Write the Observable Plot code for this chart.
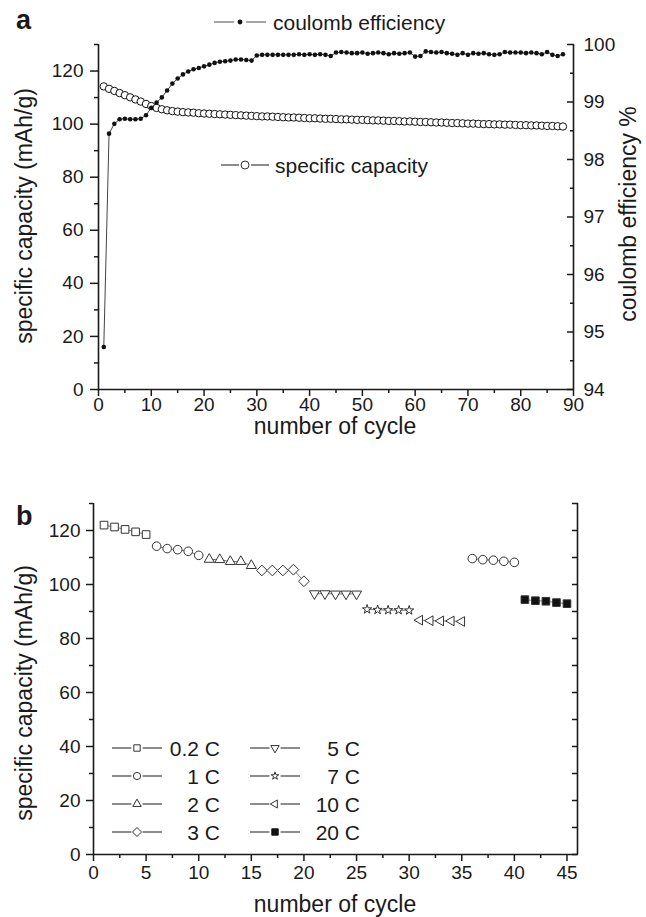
<!DOCTYPE html>
<html><head><meta charset="utf-8">
<script src="https://cdn.jsdelivr.net/npm/d3@7"></script>
<script src="https://cdn.jsdelivr.net/npm/@observablehq/plot@0.6"></script>
<style>
body{margin:0;background:#fff;}
#wrap{position:relative;width:646px;height:917px;overflow:hidden;background:#fff;}
#wrap svg{position:absolute;left:0;}
</style></head><body><div id="wrap"></div>
<script>
// ---------- Panel a data ----------
const cyclesA = [1,2,3,4,5,6,7,8,9,10,11,12,13,14,15,16,17,18,19,20,21,22,23,24,25,26,27,28,29,30,31,32,33,34,35,36,37,38,39,40,41,42,43,44,45,46,47,48,49,50,51,52,53,54,55,56,57,58,59,60,61,62,63,64,65,66,67,68,69,70,71,72,73,74,75,76,77,78,79,80,81,82,83,84,85,86,87,88];
const capacityA = [114.2,113.3,112.5,111.7,110.9,110.1,109.3,108.5,107.6,106.8,106.1,105.6,105.2,104.9,104.7,104.5,104.4,104.3,104.1,104.0,103.9,103.8,103.7,103.6,103.5,103.4,103.3,103.2,103.1,103.0,102.9,102.9,102.8,102.7,102.6,102.5,102.5,102.4,102.3,102.2,102.2,102.1,102.0,102.0,101.9,101.8,101.8,101.7,101.6,101.6,101.5,101.4,101.4,101.3,101.2,101.2,101.1,101.0,101.0,100.9,100.8,100.8,100.7,100.6,100.6,100.5,100.4,100.4,100.3,100.2,100.2,100.1,100.0,100.0,99.9,99.9,99.8,99.8,99.7,99.6,99.6,99.5,99.5,99.4,99.3,99.3,99.2,99.1];
const efficiencyA = [94.74,98.45,98.62,98.70,98.71,98.70,98.70,98.71,98.77,98.90,98.99,99.08,99.20,99.32,99.41,99.48,99.53,99.57,99.59,99.62,99.65,99.68,99.70,99.71,99.72,99.74,99.74,99.73,99.72,99.81,99.82,99.82,99.82,99.82,99.82,99.82,99.82,99.83,99.82,99.83,99.82,99.83,99.82,99.80,99.86,99.87,99.86,99.85,99.85,99.86,99.84,99.85,99.86,99.85,99.83,99.85,99.84,99.85,99.86,99.79,99.80,99.88,99.87,99.86,99.87,99.85,99.84,99.82,99.85,99.82,99.85,99.84,99.85,99.83,99.82,99.83,99.87,99.86,99.86,99.86,99.85,99.86,99.85,99.83,99.87,99.82,99.80,99.83];
const capTicks = [0,20,40,60,80,100,120];
const capMinor = [10,30,50,70,90,110,130];
const ceTicks = [94,95,96,97,98,99,100];
const ceMinor = [94.5,95.5,96.5,97.5,98.5,99.5];
const cycleTicksA = [0,10,20,30,40,50,60,70,80,90];
const cycleMinorA = [5,15,25,35,45,55,65,75,85];

// ---------- Panel b data ----------
const cyclesB = [1,2,3,4,5,6,7,8,9,10,11,12,13,14,15,16,17,18,19,20,21,22,23,24,25,26,27,28,29,30,31,32,33,34,35,36,37,38,39,40,41,42,43,44,45];
const capacityB = [122.0,121.3,120.4,119.5,118.5, 114.2,113.3,112.9,112.3,110.8, 109.3,109.2,108.5,108.5,107.0, 105.2,105.2,105.2,105.5,101.2, 96.6,96.6,96.5,96.5,96.5, 90.8,90.6,90.5,90.5,90.4, 86.8,86.6,86.5,86.5,86.3, 109.6,109.2,109.0,108.6,108.2, 94.4,94.0,93.8,93.3,92.9];
const blockRates = ["0.2 C","1 C","2 C","3 C","5 C","7 C","10 C","1 C","20 C"];
const legendRates = ["0.2 C","1 C","2 C","3 C","5 C","7 C","10 C","20 C"];
const cycleTicksB = [0,5,10,15,20,25,30,35,40,45];
const cycleMinorB = [2.5,7.5,12.5,17.5,22.5,27.5,32.5,37.5,42.5];
const capTicksB = [0,20,40,60,80,100,120];
const capMinorB = [10,30,50,70,90,110,130];
const capAllB = [0,10,20,30,40,50,60,70,80,90,100,110,120,130];

// ---------- symbols ----------
const sym = {
  square: {draw(c, s){const h = Math.sqrt(s)/2; c.moveTo(-h,-h); c.lineTo(h,-h); c.lineTo(h,h); c.lineTo(-h,h); c.closePath();}},
  circle: {draw(c, s){const r = Math.sqrt(s/Math.PI); c.moveTo(r,0); c.arc(0,0,r,0,2*Math.PI);}},
  triUp: {draw(c, s){const R = Math.sqrt(s/Math.PI)*1.35; c.moveTo(0,-R); c.lineTo(R*0.866,R*0.5); c.lineTo(-R*0.866,R*0.5); c.closePath();}},
  triDown: {draw(c, s){const R = Math.sqrt(s/Math.PI)*1.35; c.moveTo(0,R); c.lineTo(R*0.866,-R*0.5); c.lineTo(-R*0.866,-R*0.5); c.closePath();}},
  triLeft: {draw(c, s){const R = Math.sqrt(s/Math.PI)*1.3; c.moveTo(-R,0); c.lineTo(R*0.5,-R*0.866); c.lineTo(R*0.5,R*0.866); c.closePath();}},
  diamond: {draw(c, s){const D = Math.sqrt(s/Math.PI)*1.25; c.moveTo(0,-D); c.lineTo(D,0); c.lineTo(0,D); c.lineTo(-D,0); c.closePath();}},
  star: {draw(c, s){d3.symbolStar.draw(c, s*0.45);}}
};
const rateSymbol = {"0.2 C": sym.square, "1 C": sym.circle, "2 C": sym.triUp, "3 C": sym.diamond, "5 C": sym.triDown, "7 C": sym.star, "10 C": sym.triLeft, "20 C": sym.square};
const rateFill = r => r === "20 C" ? "#111" : "white";

const FONT = "'Liberation Sans', Arial, Helvetica, sans-serif";
const INK = "#1a1a1a";

// ---------- Panel a ----------
const dataA = cyclesA.map((c, i) => ({cycle: c, cap: capacityA[i], ce: efficiencyA[i]}));
const ceToLeft = v => (v - 94) * 130 / 6;   // right axis (94-100 %) mapped on left axis (0-130)
const leftToCe = v => Math.round(v * 6 / 130 + 94);

const plotA = Plot.plot({
  width: 646, height: 440,
  marginLeft: 98, marginRight: 73, marginTop: 44, marginBottom: 51,
  style: {fontFamily: FONT, fontSize: "19px", color: INK, background: "transparent", overflow: "visible"},
  x: {domain: [0, 90]},
  y: {domain: [0, 130]},
  marks: [
    Plot.axisX({ticks: cycleTicksA, tickSize: 7, tickPadding: 1, label: null, strokeWidth: 1.5}),
    Plot.axisX({ticks: cycleMinorA, tickSize: 4, tickFormat: () => "", label: null, strokeWidth: 1.5}),
    Plot.axisY({ticks: capTicks, tickSize: 8, tickPadding: 7, label: null, strokeWidth: 1.5}),
    Plot.axisY({ticks: capMinor, tickSize: 4, tickFormat: () => "", label: null, strokeWidth: 1.5}),
    Plot.axisY({anchor: "right", ticks: ceTicks.map(ceToLeft), tickFormat: leftToCe, tickSize: -7, tickPadding: 17, label: null, strokeWidth: 1.5}),
    Plot.axisY({anchor: "right", ticks: ceMinor.map(ceToLeft), tickFormat: () => "", tickSize: -4, label: null, strokeWidth: 1.5}),
    Plot.ruleX([0, 90], {stroke: INK, strokeWidth: 1.6}),
    Plot.ruleY([0], {stroke: INK, strokeWidth: 1.6}),
    Plot.line(dataA, {x: "cycle", y: "cap", stroke: "#555", strokeWidth: 1}),
    Plot.dot(dataA, {x: "cycle", y: "cap", r: 3.7, fill: "white", stroke: "#111", strokeWidth: 1}),
    Plot.line(dataA, {x: "cycle", y: d => ceToLeft(d.ce), stroke: "#444", strokeWidth: 1}),
    Plot.dot(dataA, {x: "cycle", y: d => ceToLeft(d.ce), r: 2.3, fill: "#111", stroke: "none"})
  ]
});

// ---------- Panel b ----------
const dataB = cyclesB.map((c, i) => ({cycle: c, cap: capacityB[i], rate: blockRates[Math.floor(i / 5)], block: Math.floor(i / 5)}));
const blockMarks = blockRates.map((rate, b) => {
  const rows = dataB.filter(d => d.block === b);
  return [
    Plot.line(rows, {x: "cycle", y: "cap", stroke: "#777", strokeWidth: 1}),
    Plot.dot(rows, {x: "cycle", y: "cap", r: 4.3, symbol: rateSymbol[rate], fill: rateFill(rate), stroke: "#333", strokeWidth: 1})
  ];
});

const plotB = Plot.plot({
  width: 646, height: 477,
  marginLeft: 93, marginRight: 69, marginTop: 63, marginBottom: 63,
  style: {fontFamily: FONT, fontSize: "19px", color: INK, background: "transparent", overflow: "visible"},
  x: {domain: [0, 46]},
  y: {domain: [0, 130]},
  marks: [
    Plot.axisX({ticks: cycleTicksB, tickSize: 7, tickPadding: 4, label: null, strokeWidth: 1.5}),
    Plot.axisX({ticks: cycleMinorB, tickSize: 4, tickFormat: () => "", label: null, strokeWidth: 1.5}),
    Plot.axisY({ticks: capTicksB, tickSize: 7, tickPadding: 6, label: null, strokeWidth: 1.5}),
    Plot.axisY({ticks: capMinorB, tickSize: 4, tickFormat: () => "", label: null, strokeWidth: 1.5}),
    Plot.axisY({anchor: "right", ticks: capAllB, tickSize: -6, tickFormat: () => "", label: null, strokeWidth: 1.5}),
    Plot.ruleX([0, 46], {stroke: INK, strokeWidth: 1.6}),
    Plot.ruleY([0], {stroke: INK, strokeWidth: 1.6}),
    ...blockMarks.flat()
  ]
});

const wrap = document.getElementById("wrap");
plotA.style.top = "0px";
plotB.style.top = "440px";
wrap.appendChild(plotA);
wrap.appendChild(plotB);

// ---------- overlay: panel letters, axis titles, legends ----------
const ov = d3.select(wrap).append("svg")
  .attr("width", 646).attr("height", 917)
  .style("top", "0px").style("pointer-events", "none")
  .style("font-family", FONT).style("fill", INK);

function title(x, y, text, rot, size) {
  ov.append("text").attr("transform", `translate(${x},${y}) rotate(${rot})`)
    .attr("text-anchor", "middle").attr("dominant-baseline", "central")
    .attr("font-size", size).attr("fill", INK).text(text);
}
ov.append("text").attr("x", 16).attr("y", 29).attr("font-size", 27).attr("font-weight", "bold").attr("fill", INK).text("a");
ov.append("text").attr("x", 16).attr("y", 525).attr("font-size", 27).attr("font-weight", "bold").attr("fill", INK).text("b");
title(24, 216, "specific capacity (mAh/g)", -90, 23);
title(628, 214, "coulomb efficiency %", -90, 23);
title(335, 426, "number of cycle", 0, 23);
title(335, 904, "number of cycle", 0, 23);
title(24, 693, "specific capacity (mAh/g)", -90, 23);

function legendItem(x1, x2, y, symbol, fill, r, label, textX, anchor, lineColor) {
  ov.append("line").attr("x1", x1).attr("x2", x2).attr("y1", y).attr("y2", y)
    .attr("stroke", lineColor).attr("stroke-width", 1.3);
  const mx = (x1 + x2) / 2;
  ov.append("rect").attr("x", mx - r - 2).attr("y", y - r - 2).attr("width", 2 * r + 4).attr("height", 2 * r + 4).attr("fill", "white");
  ov.append("path").attr("transform", `translate(${mx},${y})`)
    .attr("d", d3.symbol(symbol, Math.PI * r * r)())
    .attr("fill", fill).attr("stroke", fill === "#111" ? "#111" : "#333").attr("stroke-width", 1);
  ov.append("text").attr("x", textX).attr("y", y).attr("text-anchor", anchor)
    .attr("dominant-baseline", "central").attr("font-size", 21).attr("fill", INK).text(label);
}
// panel a legends
{
  const y = 22;
  ov.append("line").attr("x1", 214).attr("x2", 266).attr("y1", y).attr("y2", y).attr("stroke", "#888").attr("stroke-width", 1.3);
  ov.append("rect").attr("x", 234).attr("y", y - 5).attr("width", 12).attr("height", 10).attr("fill", "white");
  ov.append("circle").attr("cx", 240).attr("cy", y).attr("r", 2.4).attr("fill", "#111");
  ov.append("text").attr("x", 273).attr("y", y).attr("dominant-baseline", "central").attr("font-size", 21).attr("fill", INK).text("coulomb efficiency");
}
legendItem(221, 269, 165, sym.circle, "white", 4, "specific capacity", 275, "start", "#666");
// panel b legend
const legRows = [748, 776, 804, 832];
legendRates.forEach((rate, i) => {
  const col = Math.floor(i / 4), y = legRows[i % 4];
  if (col === 0) legendItem(112, 162, y, rateSymbol[rate], rateFill(rate), 3.6, rate, 220, "end", "#666");
  else legendItem(250, 300, y, rateSymbol[rate], rateFill(rate), 3.6, rate, 360, "end", "#666");
});
</script></body></html>
